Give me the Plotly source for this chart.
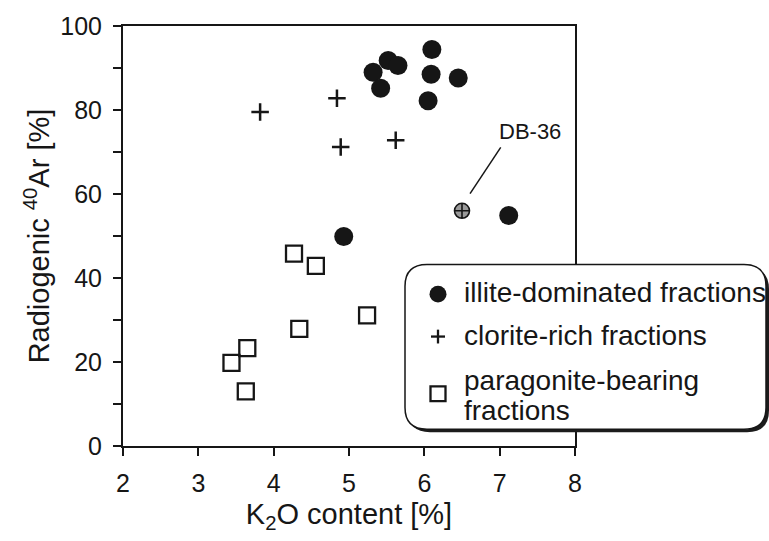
import plotly.graph_objects as go

# K2O content [%] and radiogenic 40Ar [%] per clay fraction type
illite_k2o = [6.10, 6.09, 6.05, 6.45, 5.32, 5.52, 5.65, 5.42, 7.12, 4.93]
illite_ar = [94.4, 88.5, 82.2, 87.6, 89.0, 91.8, 90.6, 85.2, 54.9, 49.9]

clorite_k2o = [3.82, 4.84, 4.89, 5.62]
clorite_ar = [79.5, 82.8, 71.2, 72.8]

paragonite_k2o = [4.27, 4.56, 5.24, 4.34, 3.65, 3.44, 3.63]
paragonite_ar = [45.8, 42.9, 31.1, 27.9, 23.3, 19.8, 13.0]

# sample DB-36 (mixed character)
db36_k2o = [6.50]
db36_ar = [56.0]
db36_label = "DB-36"

series_names = ["illite-dominated fractions", "clorite-rich fractions",
                "paragonite-bearing<br>fractions"]

x_ticks = [2, 3, 4, 5, 6, 7, 8]
y_ticks = [0, 20, 40, 60, 80, 100]

FONT = "Liberation Sans, Arial, sans-serif"
INK = "#161616"

W, H = 769, 541
L, R, T, B = 123, 194, 20, 95
PW, PH = W - L - R, H - T - B


def px(x):
    return (x - L) / PW


def py(y):
    return (H - B - y) / PH


fig = go.Figure()

fig.add_trace(go.Scatter(
    x=illite_k2o, y=illite_ar, mode="markers", name=series_names[0],
    marker=dict(symbol="circle", size=19, color=INK, line=dict(width=0)),
    showlegend=False))
fig.add_trace(go.Scatter(
    x=clorite_k2o, y=clorite_ar, mode="markers", name=series_names[1],
    marker=dict(symbol="cross-thin", size=12.5, color=INK,
                line=dict(width=2.5, color=INK)),
    showlegend=False))
fig.add_trace(go.Scatter(
    x=paragonite_k2o, y=paragonite_ar, mode="markers", name=series_names[2],
    marker=dict(symbol="square-open", size=16, color=INK,
                line=dict(width=2.3, color=INK)),
    showlegend=False))
fig.add_trace(go.Scatter(
    x=db36_k2o, y=db36_ar, mode="markers", name=db36_label,
    marker=dict(symbol="circle-cross", size=15, color="#9a9a9a",
                line=dict(width=1.6, color=INK)),
    showlegend=False))

shapes = []
annotations = []

# leader line to the DB-36 label
shapes.append(dict(type="line", xref="x", yref="y",
                   x0=6.607, y0=60.1, x1=7.014, y1=71.1,
                   line=dict(color=INK, width=1.5)))
annotations.append(dict(x=7.40, y=74.9, xref="x", yref="y", text=db36_label,
                        showarrow=False, font=dict(family=FONT, size=22, color=INK),
                        xanchor="center", yanchor="middle"))


def rounded_rect(x0, y0, x1, y1, r):
    rx, ry = r / PW, r / PH
    a0, a1 = px(x0), px(x1)
    b0, b1 = py(y0), py(y1)  # b0 is top, b1 is bottom (paper)
    return (f"M {a0 + rx},{b0} L {a1 - rx},{b0} Q {a1},{b0} {a1},{b0 - ry} "
            f"L {a1},{b1 + ry} Q {a1},{b1} {a1 - rx},{b1} "
            f"L {a0 + rx},{b1} Q {a0},{b1} {a0},{b1 + ry} "
            f"L {a0},{b0 - ry} Q {a0},{b0} {a0 + rx},{b0} Z")


# legend box with drop shadow
box = (405, 262, 766, 429)
shapes.append(dict(type="path", xref="paper", yref="paper",
                   path=rounded_rect(box[0] + 3, box[1] + 3, box[2] + 3, box[3] + 3, 22),
                   fillcolor="#1c1c1c", line=dict(width=0), layer="above"))
shapes.append(dict(type="path", xref="paper", yref="paper",
                   path=rounded_rect(*box, 22),
                   fillcolor="white", line=dict(color=INK, width=1.5), layer="above"))

# legend keys
sx = 438
shapes.append(dict(type="circle", xref="paper", yref="paper",
                   x0=px(sx - 8.5), x1=px(sx + 8.5), y0=py(292 - 8.5), y1=py(292 + 8.5),
                   fillcolor=INK, line=dict(width=0), layer="above"))
shapes.append(dict(type="line", xref="paper", yref="paper",
                   x0=px(sx - 7), x1=px(sx + 7), y0=py(335), y1=py(335),
                   line=dict(color=INK, width=2.3), layer="above"))
shapes.append(dict(type="line", xref="paper", yref="paper",
                   x0=px(sx), x1=px(sx), y0=py(335 - 7), y1=py(335 + 7),
                   line=dict(color=INK, width=2.3), layer="above"))
shapes.append(dict(type="rect", xref="paper", yref="paper",
                   x0=px(sx - 7.5), x1=px(sx + 7.5), y0=py(393 - 7.5), y1=py(393 + 7.5),
                   fillcolor="white", line=dict(color=INK, width=2.3), layer="above"))

legend_rows = [(series_names[0], 290), (series_names[1], 334),
               ("paragonite-bearing", 380), ("fractions", 410)]
for text, ypix in legend_rows:
    annotations.append(dict(x=px(462), y=py(ypix), xref="paper", yref="paper",
                            text=text, showarrow=False, xanchor="left", yanchor="middle",
                            font=dict(family=FONT, size=28, color=INK)))

axis_common = dict(showgrid=False, zeroline=False, showline=True, linewidth=2,
                   linecolor=INK, mirror=True, ticks="outside", ticklen=8,
                   tickwidth=2, tickcolor=INK,
                   tickfont=dict(family=FONT, size=25, color=INK))

fig.update_layout(
    width=W, height=H,
    margin=dict(l=L, r=R, t=T, b=B, pad=0),
    plot_bgcolor="white", paper_bgcolor="white",
    font=dict(family=FONT, color=INK),
    xaxis=dict(range=[2, 8], tickvals=x_ticks, **axis_common,
               ticklabelstandoff=6,
               title=dict(text="K<sub>2</sub>O content [%]",
                          font=dict(family=FONT, size=29, color=INK), standoff=8)),
    yaxis=dict(range=[0, 100], tickvals=y_ticks, **axis_common,
               ticklabelstandoff=6,
               minor=dict(tickvals=[10, 30, 50, 70, 90], ticks="outside", ticklen=8,
                          tickwidth=2, tickcolor=INK),
               title=dict(text="Radiogenic <sup>40</sup>Ar [%]",
                          font=dict(family=FONT, size=29, color=INK), standoff=2)),
    shapes=shapes,
    annotations=annotations,
    showlegend=False,
)

fig.write_html("out.html")
